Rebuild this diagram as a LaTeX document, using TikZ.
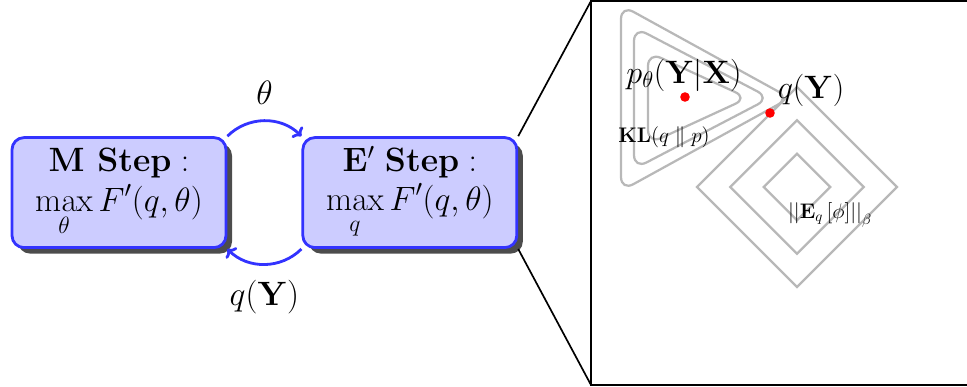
\RequirePackage{fix-cm}
\documentclass[tikz,border=0pt]{standalone}
\usepackage{amsmath,amssymb}
\usetikzlibrary{arrows.meta,positioning,shadows}
\definecolor{stepblue}{RGB}{51,51,255}
\definecolor{steplight}{RGB}{204,204,255}
\definecolor{isogray}{RGB}{184,184,184}

\begin{document}
\begin{tikzpicture}[node distance=1.85cm,
    stepbox/.style={rectangle,rounded corners=0.3cm,draw=stepblue,fill=steplight,line width=2pt,
      minimum width=5.35cm,minimum height=2.75cm,align=center,inner sep=2pt,
      font=\fontsize{24}{28}\selectfont,
      drop shadow={shadow xshift=0.15cm,shadow yshift=-0.15cm,fill=black!70,opacity=1}},
    passarrow/.style={draw=stepblue,line width=2pt,-{To[length=5pt,width=11pt]}},
    isoline/.style={draw=isogray,line width=1.6pt},
    dot/.style={circle,fill=red,inner sep=0pt,minimum size=0.24cm}]
  \useasboundingbox (0,0) rectangle (24.175,9.675);
  % the two steps
  \node[stepbox] (m) at (2.975,4.86) {$\textbf{M Step}:$\\$\displaystyle\max_{\theta} F'(q,\theta)$};
  \node[stepbox,right=1.85cm of m] (e) {$\mathbf{E}'\ \textbf{Step}:$\\$\displaystyle\max_{q} F'(q,\theta)$};
  \draw[passarrow] (m.north east) to[bend left=45]
    node[above=0.25cm,font=\fontsize{24}{28}\selectfont] (theta) {$\theta$} (e.north west);
  \draw[passarrow] (e.south west) to[bend left=45]
    node[below=0.25cm,font=\fontsize{24}{28}\selectfont] (qy) {$q(\mathbf{Y})$} (m.south east);
  % zoomed panel
  \coordinate (ptop) at (14.775,9.65);
  \coordinate (pbot) at (14.775,0.05);
  \draw[very thick] (24.2,9.65) -- (ptop) -- (pbot) -- (24.2,0.05);
  \draw[very thick] (e.north east) -- (ptop);
  \draw[very thick] (e.south east) -- (pbot);
  % contours
  \foreach \lx/\ty/\tx in {15.525/9.55/19.75, 15.85/9.0/19.25, 16.2/8.375/18.7}
    \draw[isoline,rounded corners=10pt] (\lx,\ty) -- (\tx,7.225) -- (\lx,{14.45-\ty}) -- cycle;
  \coordinate (dc) at (19.925,5.0);
  \foreach \r in {2.5,1.667,0.833}
    \draw[isoline] (dc) ++(-\r,0) -- ++(\r,\r) -- ++(\r,-\r) -- ++(-\r,-\r) -- cycle;
  \node[dot] (pmode) at (17.125,7.25) {};
  \node[dot] (qpt) at (19.25,6.85) {};
  \node[font=\fontsize{23}{27}\selectfont] (plabel) at (17.1,7.8) {$p_\theta(\mathbf{Y}|\mathbf{X})$};
  \node[font=\fontsize{23}{27}\selectfont] (qlabel) at (20.275,7.425) {$q(\mathbf{Y})$};
  \node[font=\fontsize{15}{18}\selectfont] (kl) at (16.6,6.25) {$\mathbf{KL}(q\parallel p)$};
  \node[font=\fontsize{15}{18}\selectfont] (norm) at (20.75,4.3) {$\left|\left|\mathbf{E}_q\left[\phi\right]\right|\right|_\beta$};
\end{tikzpicture}
\end{document}
